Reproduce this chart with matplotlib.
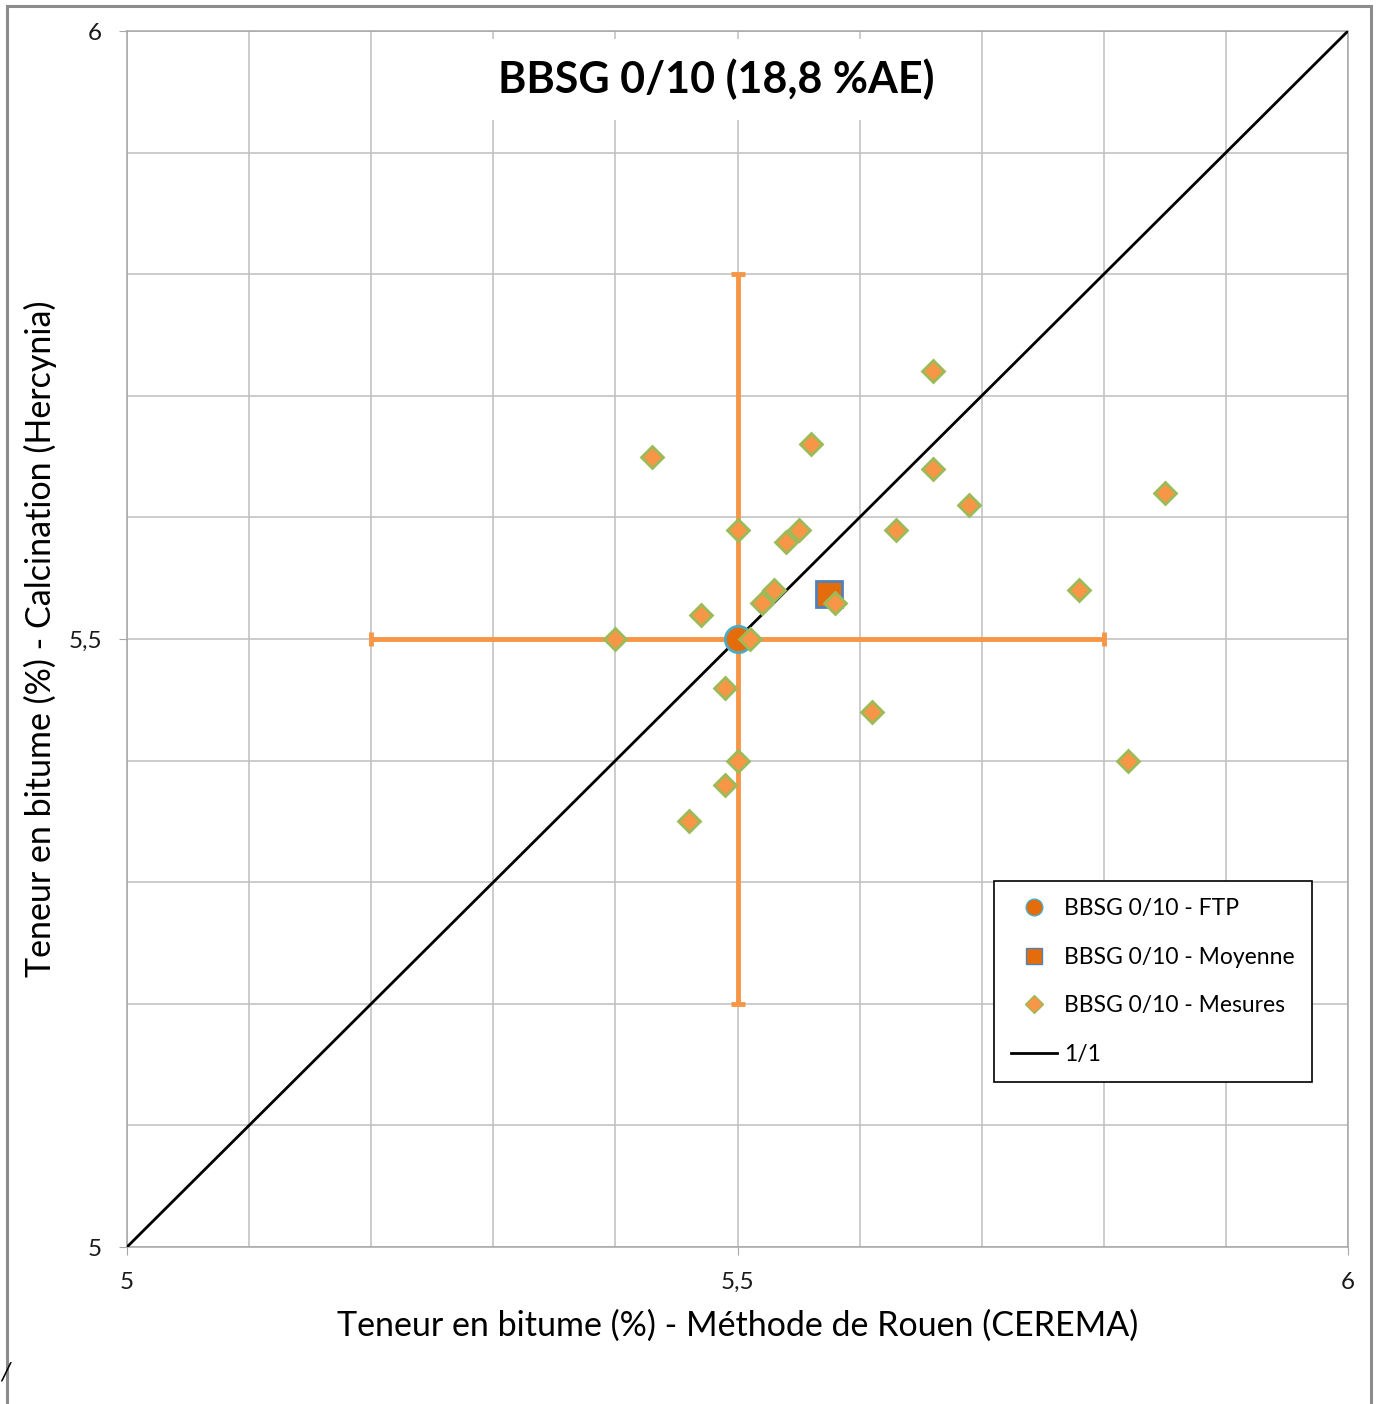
import matplotlib.pyplot as plt
from matplotlib.lines import Line2D
from matplotlib.patches import Rectangle

# data
mes_x = [5.66, 5.43, 5.56, 5.66, 5.85, 5.69, 5.50, 5.55, 5.54, 5.63, 5.53, 5.52,
         5.58, 5.78, 5.47, 5.40, 5.51, 5.49, 5.61, 5.50, 5.82, 5.49, 5.46]
mes_y = [5.72, 5.65, 5.66, 5.64, 5.62, 5.61, 5.59, 5.59, 5.58, 5.59, 5.54, 5.53,
         5.53, 5.54, 5.52, 5.50, 5.50, 5.46, 5.44, 5.40, 5.40, 5.38, 5.35]
ftp_x, ftp_y = 5.5, 5.5
ftp_err = 0.3
moy_x, moy_y = 5.575, 5.537
line_11 = [5, 6]
tick_vals = [5, 5.5, 6]
tick_lbls = ['5', '5,5', '6']

orange = '#F79646'
dark_orange = '#E46C0A'
green = '#9BBB59'

plt.rcParams['font.family'] = ['Lato', 'DejaVu Sans']

W, H = 1383, 1404
fig = plt.figure(figsize=(W / 100, H / 100), dpi=100)
ax = fig.add_axes([127 / W, 1 - 1247 / H, (1348 - 127) / W, (1247 - 31) / H])

# outer chart frame
fig.patches.append(Rectangle((7 / W, -0.05), (1371 - 7) / W, 1.05 - 6 / H,
                             transform=fig.transFigure, fill=False,
                             edgecolor='#8c8c8c', linewidth=2.2))

ax.set_xlim(5, 6)
ax.set_ylim(5, 6)
ax.set_xticks(tick_vals)
ax.set_yticks(tick_vals)
ax.set_xticklabels(tick_lbls, fontsize=17.5, color='#1a1a1a')
ax.set_yticklabels(tick_lbls, fontsize=17.5, color='#1a1a1a')
ax.set_xticks([5 + i / 10 for i in range(11)], minor=True)
ax.set_yticks([5 + i / 10 for i in range(11)], minor=True)
ax.grid(True, which='both', color='#bfbfbf', linewidth=1.1, zorder=0)
ax.tick_params(which='major', direction='out', length=6, color='#a6a6a6', pad=12)
ax.tick_params(which='minor', length=0)
for s in ax.spines.values():
    s.set_color('#a6a6a6')
    s.set_linewidth(1.1)

ax.plot(line_11, line_11, color='black', linewidth=2, zorder=3)

ax.errorbar(ftp_x, ftp_y, xerr=ftp_err, yerr=ftp_err, fmt='none',
            ecolor=orange, elinewidth=3.5, capsize=5, capthick=3.5, zorder=2)
ax.plot(ftp_x, ftp_y, 'o', markersize=19, markerfacecolor=dark_orange,
        markeredgecolor='#4BACC6', markeredgewidth=2, zorder=4)
ax.plot(moy_x, moy_y, 's', markersize=19, markerfacecolor=dark_orange,
        markeredgecolor='#4F81BD', markeredgewidth=2, zorder=4)
ax.plot(mes_x, mes_y, 'D', markersize=11, markerfacecolor=orange,
        markeredgecolor=green, markeredgewidth=2, linestyle='none', zorder=5)

ax.set_xlabel('Teneur en bitume (%) - Méthode de Rouen (CEREMA)', fontsize=24.5,
              labelpad=12)
ax.set_ylabel('Teneur en bitume (%) - Calcination (Hercynia)', fontsize=24.5,
              labelpad=8)

ax.text(0.483, 0.96, 'BBSG 0/10 (18,8 %AE)', transform=ax.transAxes,
        ha='center', va='center', fontsize=31, fontweight='bold',
        bbox=dict(facecolor='white', edgecolor='none', pad=14), zorder=6)

handles = [
    Line2D([], [], marker='o', linestyle='none', markersize=12,
           markerfacecolor=dark_orange, markeredgecolor='#4BACC6'),
    Line2D([], [], marker='s', linestyle='none', markersize=12,
           markerfacecolor=dark_orange, markeredgecolor='#4F81BD'),
    Line2D([], [], marker='D', linestyle='none', markersize=9,
           markerfacecolor=orange, markeredgecolor=green),
    Line2D([], [], color='black', linewidth=2),
]
labels = ['BBSG 0/10 - FTP', 'BBSG 0/10 - Moyenne', 'BBSG 0/10 - Mesures', '1/1']
leg = ax.legend(handles, labels, loc='upper left',
                bbox_to_anchor=((994 - 127) / 1221, 1 - (881 - 31) / 1216),
                fontsize=16.5, frameon=True, fancybox=False, edgecolor='black',
                framealpha=1, labelspacing=1.2, handlelength=2.0,
                borderpad=0.75, handletextpad=0.3, borderaxespad=0)
leg.get_frame().set_linewidth(1.2)
leg.set_zorder(7)

fig.text(0.0, 1 - 1372 / H, '/', fontsize=18, style='italic', va='center')

fig.savefig('out.png', dpi=100)
